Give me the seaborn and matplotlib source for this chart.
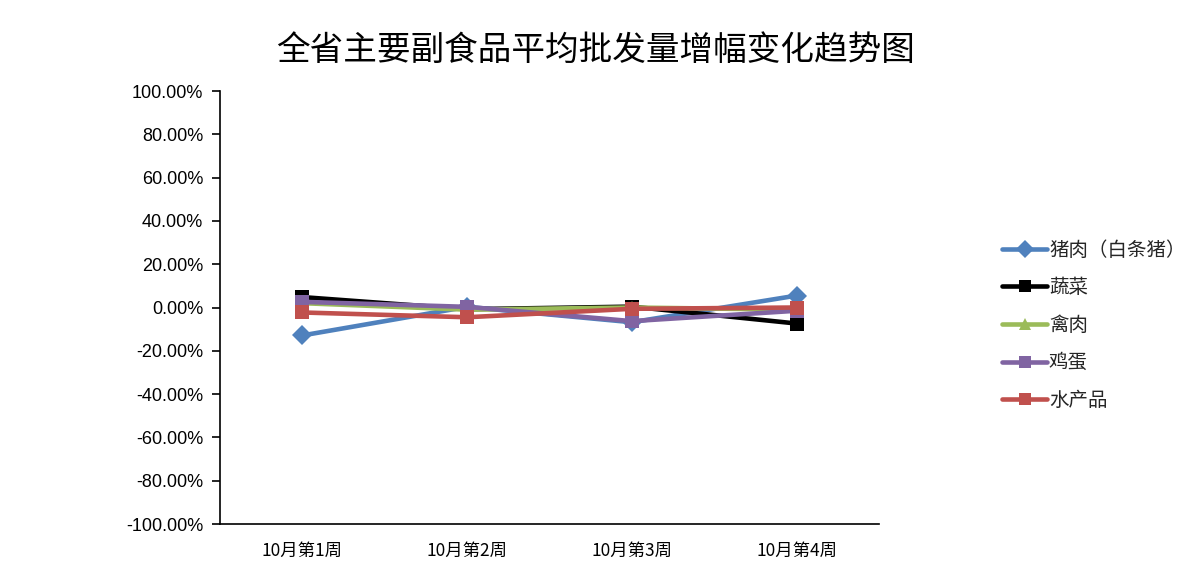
import matplotlib
matplotlib.use('Agg')
import matplotlib.pyplot as plt
import pandas as pd
import numpy as np
import seaborn as sns

# 数据（从图上读取，单位：%）
weeks = ['10月第1周', '10月第2周', '10月第3周', '10月第4周']
series_names = ['猪肉（白条猪）', '蔬菜', '禽肉', '鸡蛋', '水产品']
pork = [-12.9, 0.3, -6.8, 5.5]
veg = [4.8, -0.8, 0.4, -7.4]
poultry = [2.0, -1.0, 0.0, -1.0]
eggs = [2.6, 0.3, -6.3, -1.5]
aquatic = [-2.3, -4.5, -0.6, 0.0]
yticks = list(range(-100, 101, 20))

colors = ['#4F81BD', '#000000', '#9BBB59', '#8064A2', '#C0504D']
markers = ['D', 's', '^', 's', 's']

df = pd.DataFrame({
    '周': weeks * 5,
    '系列': np.repeat(series_names, 4),
    '增幅': pork + veg + poultry + eggs + aquatic,
})
df['x'] = df['周'].map({w: i for i, w in enumerate(weeks)})

sns.set_style('white')
plt.rcParams['font.family'] = ['Noto Sans CJK SC', 'DejaVu Sans']

fig = plt.figure(figsize=(12.01, 5.83), dpi=100)
ax = fig.add_axes([0.1832, 0.1012, 0.5487, 0.7427])

sns.lineplot(data=df, x='x', y='增幅', hue='系列', style='系列',
             hue_order=series_names, style_order=series_names,
             palette=colors, markers=dict(zip(series_names, markers)),
             dashes=False, linewidth=3.3, markersize=10.5, markeredgewidth=0,
             ax=ax, legend=True)

ax.set_xlim(-0.5, 3.5)
ax.set_ylim(-100, 100)
ax.set_yticks(yticks)
ax.set_yticklabels([f'{v:.2f}%' for v in yticks], family=['Liberation Sans', 'DejaVu Sans'],
                   fontsize=13, color='black')
ax.set_xticks(range(4))
ax.set_xticklabels(weeks, fontsize=12.5, color='black')
ax.set_xticks([0.5, 1.5, 2.5, 3.5], minor=True)
ax.tick_params(axis='x', which='major', length=0, pad=13)
ax.tick_params(axis='x', which='minor', direction='in', length=5, width=1.2, color='black')
ax.tick_params(axis='y', direction='out', length=6, width=1.2, color='black', left=True, pad=6)
ax.set_xlabel('')
ax.set_ylabel('')
for s in ['top', 'right']:
    ax.spines[s].set_visible(False)
for s in ['left', 'bottom']:
    ax.spines[s].set_color('black')
    ax.spines[s].set_linewidth(1.2)

handles, labels = ax.get_legend_handles_labels()
ax.legend_.remove()
fig.legend(handles, labels, loc='center left', bbox_to_anchor=(0.82, 0.442),
           frameon=False, fontsize=14, handlelength=2.3, labelspacing=0.85,
           handletextpad=0.1, markerscale=0.85)

fig.text(0.496, 0.913, '全省主要副食品平均批发量增幅变化趋势图', fontsize=24.2,
         ha='center', va='center', color='black')

fig.savefig('out.png', dpi=100)
